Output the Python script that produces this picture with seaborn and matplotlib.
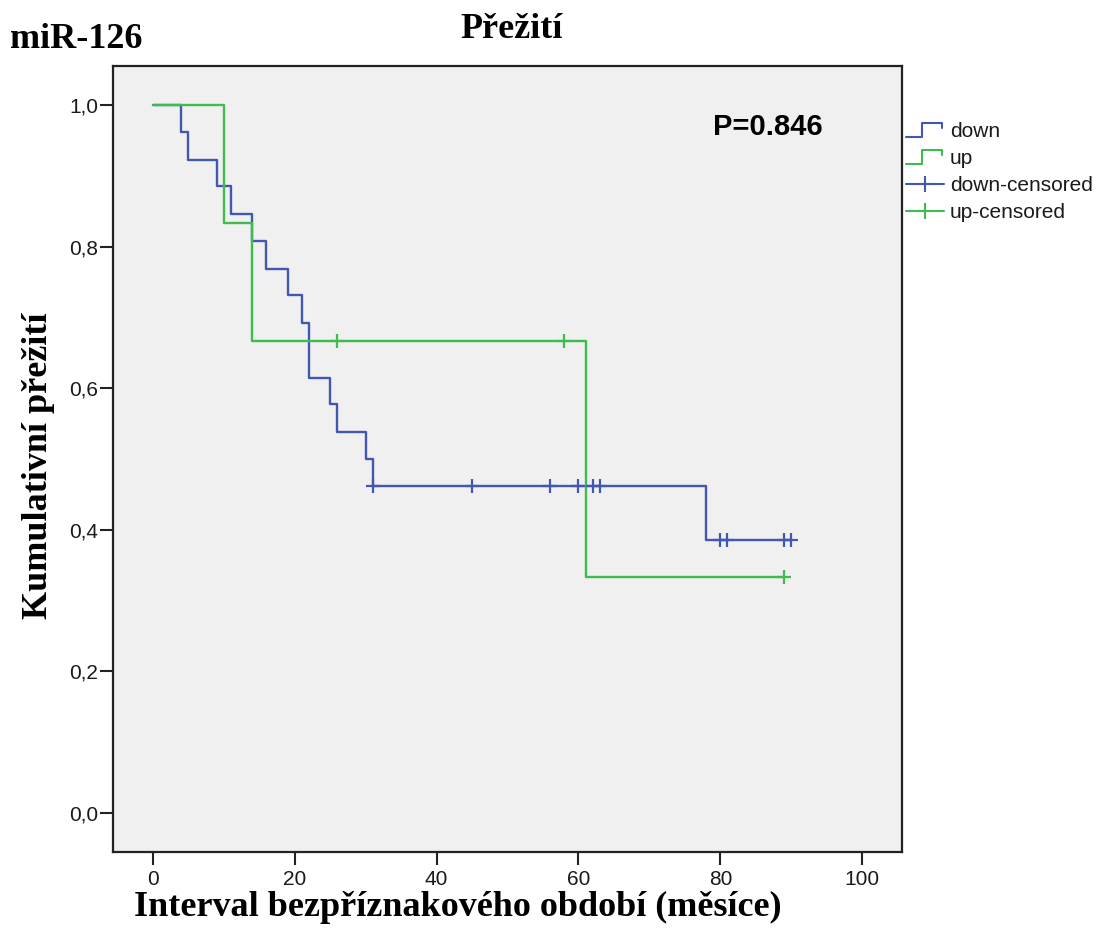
import numpy as np
import pandas as pd
import matplotlib
matplotlib.use("Agg")
import matplotlib.pyplot as plt
import seaborn as sns
from matplotlib.lines import Line2D
from matplotlib.legend_handler import HandlerBase

# ---- data ----
down_times = [0, 4, 5, 9, 11, 14, 16, 19, 21, 22, 25, 26, 30, 31, 78, 90]
down_surv = [1.0, 0.962, 0.923, 0.885, 0.846, 0.808, 0.769, 0.731, 0.692,
             0.615, 0.577, 0.538, 0.500, 0.462, 0.385, 0.385]
down_cens_times = [31, 45, 56, 60, 62, 63, 80, 81, 89, 90]
down_cens_surv = [0.462, 0.462, 0.462, 0.462, 0.462, 0.462, 0.385, 0.385, 0.385, 0.385]

up_times = [0, 10, 14, 61, 89]
up_surv = [1.0, 0.833, 0.667, 0.333, 0.333]
up_cens_times = [26, 58, 89]
up_cens_surv = [0.667, 0.667, 0.333]

x_ticks = [0, 20, 40, 60, 80, 100]
y_ticks = [0.0, 0.2, 0.4, 0.6, 0.8, 1.0]
y_tick_labels = ["0,0", "0,2", "0,4", "0,6", "0,8", "1,0"]
legend_labels = ["down", "up", "down-censored", "up-censored"]
p_text = "P=0.846"

BLUE = "#4257AE"
GREEN = "#3FBB50"

sns.set_style("white")
plt.rcParams["font.family"] = ["Liberation Sans", "DejaVu Sans"]

fig = plt.figure(figsize=(11.04, 9.42), dpi=100)
ax = fig.add_axes([0.10263, 0.09533, 0.7141, 0.8349])
ax.set_facecolor("#F0F0F0")

down_df = pd.DataFrame({"t": down_times, "s": down_surv})
up_df = pd.DataFrame({"t": up_times, "s": up_surv})
down_c = pd.DataFrame({"t": down_cens_times, "s": down_cens_surv})
up_c = pd.DataFrame({"t": up_cens_times, "s": up_cens_surv})

sns.lineplot(data=down_df, x="t", y="s", drawstyle="steps-post", estimator=None,
             sort=False, color=BLUE, linewidth=1.7, ax=ax, legend=False)
sns.scatterplot(data=down_c, x="t", y="s", marker="+", s=110, linewidth=1.6,
                color=BLUE, ax=ax, legend=False, zorder=3)
sns.lineplot(data=up_df, x="t", y="s", drawstyle="steps-post", estimator=None,
             sort=False, color=GREEN, linewidth=1.7, ax=ax, legend=False)
sns.scatterplot(data=up_c, x="t", y="s", marker="+", s=110, linewidth=1.6,
                color=GREEN, ax=ax, legend=False, zorder=3)

ax.set_xlim(-5.55, 105.55)
ax.set_ylim(-0.0556, 1.0556)
ax.set_xticks(x_ticks)
ax.set_xticklabels([str(v) for v in x_ticks])
ax.set_yticks(y_ticks)
ax.set_yticklabels(y_tick_labels)
ax.tick_params(axis="both", direction="out", length=9.5, width=1.5, color="#222222",
               labelsize=15, labelcolor="#1a1a1a", bottom=True, left=True)
ax.tick_params(axis="y", pad=1.5)
ax.tick_params(axis="x", pad=3.5)
for sp in ax.spines.values():
    sp.set_visible(True)
    sp.set_color("#222222")
    sp.set_linewidth(1.6)

serif = ["Liberation Serif", "DejaVu Serif"]
ax.set_xlabel("Interval bezpříznakového období (měsíce)", fontsize=26,
              fontweight="bold", family=serif, color="black")
ax.set_ylabel("Kumulativní přežití", fontsize=26, fontweight="bold",
              family=serif, color="black")
ax.xaxis.label.set_va("center")
ax.yaxis.label.set_va("center")
ax.xaxis.set_label_coords(0.4367, -0.0697)
ax.yaxis.set_label_coords(-0.0955, 0.491)

fig.text(512 / 1104, 1 - 30 / 942, "Přežití", fontsize=26, fontweight="bold",
         family=serif, ha="center", va="center", color="black")
fig.text(10 / 1104, 1 - 40 / 942, "miR-126", fontsize=26, fontweight="bold",
         family=serif, ha="left", va="center", color="black")

ax.text(0.7607, 0.922, p_text, transform=ax.transAxes, fontsize=21,
        fontweight="bold", ha="left", va="center", color="black")


class StepHandler(HandlerBase):
    def create_artists(self, legend, orig_handle, xdescent, ydescent, width,
                       height, fontsize, trans):
        xs = np.array([0, 0.42, 0.42, 0.97, 0.97]) * width - xdescent
        ys = np.array([0.0, 0.0, 1.0, 1.0, 0.62]) * height - ydescent
        ln = Line2D(xs, ys, color=orig_handle.get_color(),
                    linewidth=orig_handle.get_linewidth())
        ln.set_transform(trans)
        return [ln]


h_down = Line2D([], [], color=BLUE, linewidth=1.5)
h_up = Line2D([], [], color=GREEN, linewidth=1.5)
h_dc = Line2D([], [], color=BLUE, linewidth=1.5, marker="+", markersize=12,
              markeredgewidth=1.5)
h_uc = Line2D([], [], color=GREEN, linewidth=1.5, marker="+", markersize=12,
              markeredgewidth=1.5)
leg = ax.legend([h_down, h_up, h_dc, h_uc], legend_labels, loc="upper left",
                bbox_to_anchor=(1.0055, 0.928), frameon=False, fontsize=15,
                borderpad=0, borderaxespad=0, handlelength=1.8,
                handletextpad=0.3, labelspacing=0.38, numpoints=1,
                handler_map={h_down: StepHandler(), h_up: StepHandler()})
for t in leg.get_texts():
    t.set_color("#1a1a1a")

fig.savefig("out.png", dpi=100)
